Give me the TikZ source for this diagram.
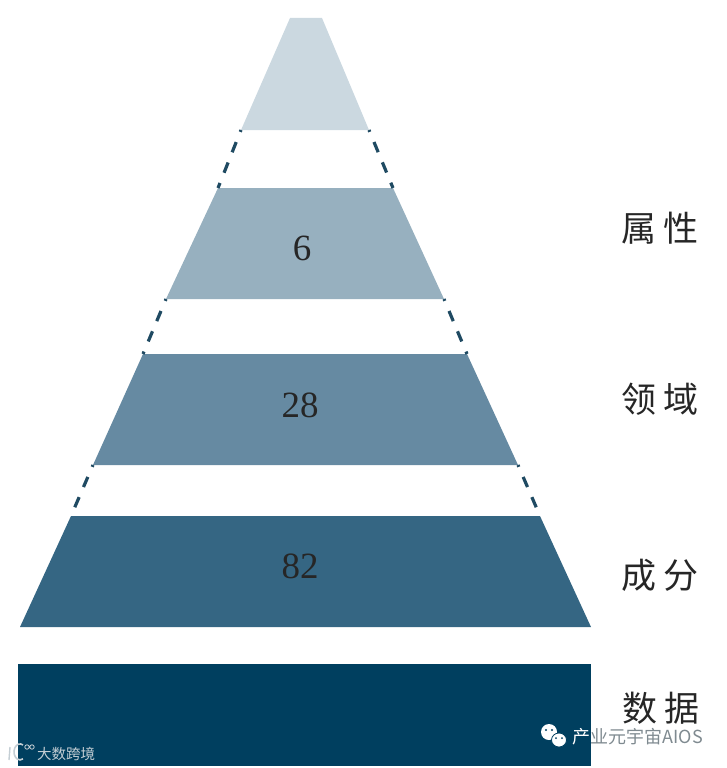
\documentclass[tikz,border=0pt]{standalone}
\usepackage{fontspec}
\usepackage{tikz}
\usetikzlibrary{positioning,calc}
\newfontfamily\cjk{Noto Sans CJK SC}
\newfontfamily\numfont{Liberation Serif}
\definecolor{bandA}{HTML}{CBD8E0}
\definecolor{bandB}{HTML}{97B0BF}
\definecolor{bandC}{HTML}{668AA2}
\definecolor{bandD}{HTML}{356683}
\definecolor{bandE}{HTML}{003F5F}
\definecolor{dashcol}{HTML}{1F4A62}
\definecolor{markcol}{HTML}{7F8A90}
\definecolor{logocol}{HTML}{C4CED4}

\begin{document}
\begin{tikzpicture}[
  x=1pt, y=-1pt,
  band/.style={draw=none},
  dashlink/.style={draw=dashcol, line width=3.2pt, dash pattern=on 11pt off 11pt, dash phase=9pt},
  num/.style={font=\numfont\fontsize{37}{37}\selectfont, text=black!85},
  lab/.style={font=\cjk\fontsize{35}{35}\selectfont, text=black!85, inner sep=0pt},
  wmark/.style={font=\cjk\fontsize{18}{18}\selectfont, inner sep=0pt}
]
\useasboundingbox (0,0) rectangle (726,768);
\fill[band, bandA] (290,18) -- (322,18) -- (369,130) -- (241,130) -- cycle;
\fill[band, bandB] (218,188) -- (393,188) -- (444,299) -- (166,299) -- cycle;
\fill[band, bandC] (143,354) -- (467,354) -- (518,465) -- (93,465) -- cycle;
\fill[band, bandD] (71,516) -- (540,516) -- (591,627) -- (20,627) -- cycle;
\fill[band, bandE] (18,664) rectangle (591,766);

\coordinate (a1) at (241,130);
\coordinate (a2) at (369,130);
\coordinate (b1) at (218,188);
\coordinate (b2) at (393,188);
\coordinate (b3) at (166,299);
\coordinate (b4) at (444,299);
\coordinate (c1) at (143,354);
\coordinate (c2) at (467,354);
\coordinate (c3) at (93,465);
\coordinate (c4) at (518,465);
\coordinate (d1) at (71,516);
\coordinate (d2) at (540,516);
\foreach \p/\q in {a1/b1,a2/b2,b3/c1,b4/c2,c3/d1,c4/d2}
  \draw[dashlink] (\p) -- (\q);

\node[num] (six) at (302,248) {6};
\node[num] (twoeight) at (300,405) {28};
\node[num] (eighttwo) at (300,566) {82};

\node[lab] (attr) at (660,228) {属\hspace{7pt}性};
\node[lab] (domain) at (660,399) {领\hspace{7pt}域};
\node[lab] (comp) at (660,575) {成\hspace{7pt}分};
\node[lab] (data) at (661,708) {数\hspace{7pt}据};

\fill[white] (549,732) ellipse (8pt and 8pt);
\fill[bandE] (546,730) circle (1.2pt) (552,730) circle (1.2pt);
\fill[white, draw=bandE, line width=0.8pt] (559,740) ellipse (7.5pt and 7pt);
\fill[bandE] (556,738) circle (1pt) (562,738) circle (1pt);
\node[wmark, text=white, anchor=west] (wx) at (572,737) {产};
\node[wmark, text=markcol, right=0pt of wx] (wxb) {业元宇宙AIOS};

\draw[logocol, line width=1.4pt] (10,747) -- (9,760);
\draw[logocol, line width=1.6pt] (23,745) arc (60:300:6pt and 8pt);
\draw[logocol, line width=0.8pt] (27,747) circle (2.2pt) (32,747) circle (2.2pt);
\node[wmark, text=logocol, font=\cjk\fontsize{14.5}{14.5}\selectfont, anchor=west] (dsk) at (37,754) {大数跨境};
\end{tikzpicture}
\end{document}
